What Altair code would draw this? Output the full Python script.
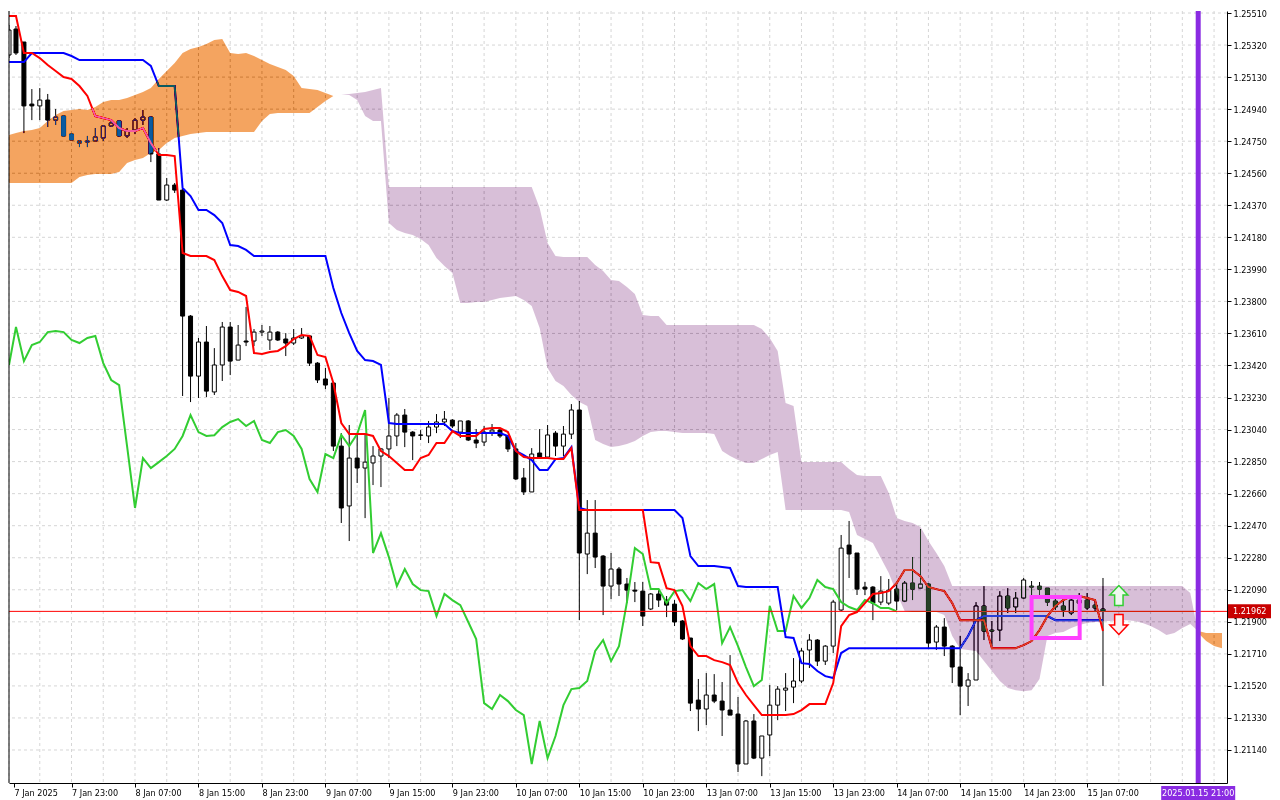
import json
import altair as alt
import pandas as pd

# ---------------- data (hourly EURUSD-like bars) ----------------
opens = [1.25261,1.25415,1.25338,1.24970,1.24959,1.24994,1.24875,1.24899,1.24792,1.24739,
1.24745,1.24751,1.24769,1.24840,1.24870,1.24781,1.24816,1.24875,1.24893,1.24674,
1.24401,1.24490,1.24460,1.23713,1.23357,1.23559,1.23263,1.23423,1.23648,1.23452,
1.23565,1.23565,1.23618,1.23571,1.23618,1.23577,1.23553,1.23583,1.23595,1.23434,
1.23340,1.23316,1.22942,1.22587,1.22871,1.22812,1.22842,1.22883,1.22925,1.23002,
1.23126,1.23025,1.23008,1.23002,1.23055,1.23085,1.23096,1.23025,1.23091,1.22978,
1.22966,1.23025,1.23037,1.23002,1.22925,1.22753,1.22670,1.22901,1.22877,1.23019,
1.22942,1.23013,1.23156,1.22302,1.22426,1.22290,1.22112,1.22213,1.22124,1.22088,
1.22082,1.21976,1.22065,1.22029,1.22005,1.21905,1.21804,1.21436,1.21383,1.21466,
1.21430,1.21377,1.21353,1.21057,1.21312,1.21092,1.21229,1.21406,1.21495,1.21513,
1.21549,1.21733,1.21792,1.21667,1.21756,1.21970,1.22355,1.22308,1.22106,1.22106,
1.22017,1.22011,1.22094,1.22023,1.22130,1.22100,1.22124,1.21780,1.21869,1.21756,
1.21632,1.21519,1.21555,1.21994,1.21851,1.21851,1.22053,1.21988,1.22041,1.22112,
1.22112,1.22100,1.22023,1.21994,1.21952,1.22029,1.22029,1.21999,1.21976]
highs = [1.25439,1.25433,1.25338,1.25059,1.25065,1.25030,1.24941,1.24905,1.24798,1.24757,
1.24781,1.24828,1.24846,1.24875,1.24875,1.24828,1.24887,1.24935,1.24899,1.24709,
1.24532,1.24502,1.24466,1.23719,1.23583,1.23654,1.23523,1.23678,1.23678,1.23660,
1.23767,1.23636,1.23660,1.23654,1.23624,1.23612,1.23636,1.23642,1.23601,1.23440,
1.23405,1.23316,1.23019,1.23067,1.23008,1.23008,1.22942,1.22930,1.23227,1.23138,
1.23162,1.23031,1.23037,1.23091,1.23132,1.23150,1.23102,1.23091,1.23096,1.23043,
1.23061,1.23073,1.23049,1.23008,1.22960,1.22812,1.22930,1.23043,1.23067,1.23031,
1.23061,1.23191,1.23209,1.22622,1.22622,1.22296,1.22308,1.22225,1.22160,1.22136,
1.22136,1.22071,1.22088,1.22053,1.22029,1.21910,1.21804,1.21561,1.21596,1.21590,
1.21543,1.21703,1.21454,1.21318,1.21353,1.21223,1.21525,1.21519,1.21596,1.21685,
1.21744,1.21827,1.21798,1.21762,1.22029,1.22415,1.22498,1.22308,1.22136,1.22112,
1.22171,1.22154,1.22130,1.22142,1.22284,1.22450,1.22130,1.21881,1.21922,1.21762,
1.21816,1.21596,1.22017,1.22112,1.21905,1.22082,1.22100,1.22077,1.22160,1.22142,
1.22136,1.22100,1.22053,1.22053,1.22041,1.22071,1.22071,1.22023,1.22160]
lows = [1.25243,1.25261,1.24798,1.24875,1.24875,1.24834,1.24846,1.24775,1.24757,1.24715,
1.24715,1.24751,1.24751,1.24834,1.24775,1.24769,1.24792,1.24846,1.24626,1.24401,
1.24395,1.24443,1.23239,1.23203,1.23227,1.23233,1.23245,1.23328,1.23363,1.23452,
1.23535,1.23535,1.23595,1.23512,1.23565,1.23476,1.23541,1.23577,1.23417,1.23316,
1.23280,1.22913,1.22486,1.22379,1.22723,1.22515,1.22711,1.22699,1.22871,1.22942,
1.22936,1.22859,1.22978,1.22960,1.23019,1.23061,1.23049,1.22990,1.22972,1.22930,
1.22942,1.23002,1.22990,1.22907,1.22741,1.22652,1.22670,1.22871,1.22871,1.22883,
1.22883,1.22984,1.21910,1.22183,1.22219,1.21940,1.22035,1.22053,1.22011,1.22017,
1.21875,1.21970,1.21988,1.21928,1.21875,1.21792,1.21371,1.21252,1.21288,1.21418,
1.21223,1.21347,1.21009,1.21057,1.21086,1.20985,1.21104,1.21317,1.21371,1.21418,
1.21537,1.21626,1.21638,1.21644,1.21715,1.21964,1.22160,1.22059,1.22059,1.21910,
1.21999,1.21999,1.21970,1.22017,1.22029,1.22100,1.21744,1.21733,1.21697,1.21537,
1.21347,1.21401,1.21555,1.21792,1.21756,1.21786,1.21952,1.21952,1.22035,1.22041,
1.22059,1.21994,1.21970,1.21930,1.21940,1.21976,1.21970,1.21958,1.21519]
closes = [1.25409,1.25273,1.24959,1.24959,1.24994,1.24875,1.24893,1.24781,1.24757,1.24751,
1.24751,1.24775,1.24840,1.24858,1.24781,1.24810,1.24875,1.24893,1.24674,1.24401,
1.24490,1.24460,1.23713,1.23357,1.23559,1.23268,1.23423,1.23648,1.23446,1.23541,
1.23559,1.23618,1.23624,1.23618,1.23571,1.23553,1.23583,1.23595,1.23434,1.23334,
1.23304,1.22942,1.22575,1.22871,1.22812,1.22847,1.22883,1.22925,1.23002,1.23126,
1.23025,1.23002,1.23006,1.23055,1.23085,1.23102,1.23061,1.23091,1.22978,1.22960,
1.23025,1.23037,1.23002,1.22925,1.22747,1.22670,1.22895,1.22871,1.23008,1.22942,
1.23013,1.23156,1.22308,1.22426,1.22284,1.22112,1.22213,1.22124,1.22088,1.22082,
1.21934,1.22065,1.22029,1.21999,1.21899,1.21798,1.21418,1.21383,1.21466,1.21430,
1.21377,1.21347,1.21057,1.21312,1.21092,1.21223,1.21406,1.21501,1.21507,1.21549,
1.21727,1.21792,1.21667,1.21756,1.22017,1.22337,1.22302,1.22094,1.22094,1.22011,
1.22082,1.22088,1.22023,1.22130,1.22094,1.22124,1.21774,1.21869,1.21756,1.21632,
1.21519,1.21555,1.21994,1.21845,1.21845,1.22053,1.21982,1.22041,1.22148,1.22106,
1.22094,1.22017,1.21988,1.21970,1.22029,1.22011,1.21982,1.21982,1.21962]

tenkan = [1.25492,1.25492,1.25273,1.25273,1.25243,1.25202,1.25166,1.25130,1.25119,1.25077,
1.25018,1.24899,1.24887,1.24875,1.24828,1.24810,1.24810,1.24828,1.24739,1.24668,
1.24668,1.24662,1.24087,1.24069,1.24069,1.24069,1.24045,1.23950,1.23867,1.23856,
1.23832,1.23494,1.23488,1.23500,1.23506,1.23535,1.23577,1.23601,1.23595,1.23482,
1.23470,1.23316,1.23079,1.23013,1.23013,1.23013,1.23002,1.22913,1.22883,1.22842,
1.22800,1.22800,1.22871,1.22889,1.22960,1.22960,1.23031,1.23002,1.23002,1.23002,
1.23043,1.23049,1.23049,1.23025,1.22913,1.22877,1.22871,1.22871,1.22871,1.22865,
1.22865,1.22930,1.22563,1.22563,1.22563,1.22563,1.22563,1.22563,1.22563,1.22563,
1.22563,1.22254,1.22249,1.22100,1.22088,1.21994,1.21756,1.21697,1.21697,1.21673,
1.21661,1.21644,1.21537,1.21466,1.21406,1.21347,1.21347,1.21347,1.21347,1.21353,
1.21377,1.21412,1.21412,1.21412,1.21537,1.21875,1.21940,1.21958,1.22011,1.22065,
1.22071,1.22082,1.22130,1.22207,1.22207,1.22171,1.22106,1.22094,1.22082,1.22011,
1.21910,1.21910,1.21910,1.21910,1.21744,1.21744,1.21744,1.21744,1.21762,1.21786,
1.21851,1.21934,1.21994,1.22029,1.22053,1.22053,1.22041,1.22029,1.21845]
kijun = [1.25219,1.25219,1.25219,1.25273,1.25273,1.25273,1.25273,1.25273,1.25255,1.25231,
1.25231,1.25231,1.25231,1.25231,1.25231,1.25231,1.25231,1.25231,1.25196,1.25077,
1.25077,1.25077,1.24472,1.24425,1.24342,1.24342,1.24312,1.24265,1.24134,1.24128,
1.24105,1.24069,1.24069,1.24069,1.24069,1.24069,1.24069,1.24069,1.24069,1.24069,
1.24069,1.23879,1.23731,1.23612,1.23506,1.23452,1.23446,1.23423,1.23079,1.23073,
1.23073,1.23073,1.23073,1.23073,1.23073,1.23073,1.23031,1.23019,1.23019,1.23019,
1.23019,1.23019,1.23019,1.23002,1.22913,1.22889,1.22859,1.22800,1.22800,1.22865,
1.22871,1.22936,1.22575,1.22563,1.22563,1.22563,1.22563,1.22563,1.22563,1.22563,
1.22563,1.22563,1.22563,1.22563,1.22563,1.22515,1.22290,1.22231,1.22231,1.22231,
1.22225,1.22219,1.22112,1.22106,1.22106,1.22106,1.22106,1.22106,1.21810,1.21804,
1.21655,1.21650,1.21608,1.21578,1.21567,1.21715,1.21744,1.21744,1.21744,1.21744,
1.21744,1.21744,1.21744,1.21744,1.21744,1.21744,1.21744,1.21744,1.21744,1.21744,
1.21744,1.21816,1.21910,1.21934,1.21934,1.21934,1.21934,1.21934,1.21934,1.21934,
1.21934,1.21934,1.21910,1.21910,1.21910,1.21910,1.21910,1.21910,1.21910]

span_a = [1.24787,1.24798,1.24810,1.24816,1.24828,1.24870,1.24905,1.24929,1.24935,1.24941,
1.24935,1.24953,1.24982,1.24994,1.24994,1.25006,1.25024,1.25042,1.25065,1.25119,
1.25166,1.25214,1.25273,1.25297,1.25308,1.25326,1.25350,1.25356,1.25273,1.25267,
1.25273,1.25255,1.25231,1.25208,1.25190,1.25172,1.25136,1.25065,1.25059,1.25053,
1.25036,1.25018,1.25024,1.25024,1.24994,1.24899,1.24870,1.24870,1.24265,1.24223,
1.24205,1.24194,1.24170,1.24134,1.24057,1.24010,1.23968,1.23790,1.23790,1.23796,
1.23796,1.23808,1.23820,1.23826,1.23832,1.23808,1.23773,1.23642,1.23405,1.23328,
1.23298,1.23245,1.23203,1.23180,1.22978,1.22954,1.22936,1.22942,1.22954,1.22972,
1.23002,1.23025,1.23031,1.23031,1.23025,1.23019,1.23019,1.23019,1.23019,1.23013,
1.22913,1.22883,1.22859,1.22842,1.22842,1.22865,1.22889,1.22907,1.22563,1.22563,
1.22563,1.22563,1.22563,1.22563,1.22563,1.22563,1.22551,1.22415,1.22391,1.22367,
1.22278,1.22189,1.22071,1.21964,1.21958,1.21958,1.21958,1.21958,1.21940,1.21816,
1.21739,1.21733,1.21727,1.21667,1.21608,1.21549,1.21507,1.21495,1.21489,1.21495,
1.21561,1.21816,1.21833,1.21839,1.21863,1.21881,1.21893,1.21899,1.21905,1.21905,
1.21910,1.21910,1.21905,1.21893,1.21875,1.21851,1.21822,1.21833,1.21863,1.21887,
1.21845,1.21833,1.21833,1.21833]
span_b = [1.24502,1.24502,1.24502,1.24502,1.24502,1.24502,1.24502,1.24502,1.24502,1.24537,
1.24549,1.24555,1.24555,1.24555,1.24567,1.24621,1.24638,1.24650,1.24680,1.24698,
1.24739,1.24769,1.24781,1.24792,1.24798,1.24804,1.24804,1.24804,1.24804,1.24804,
1.24804,1.24804,1.24870,1.24911,1.24917,1.24917,1.24917,1.24917,1.24917,1.24953,
1.24988,1.25018,1.25024,1.25030,1.25036,1.25042,1.25053,1.25065,1.24478,1.24478,
1.24478,1.24478,1.24478,1.24478,1.24478,1.24478,1.24478,1.24478,1.24478,1.24478,
1.24478,1.24478,1.24478,1.24478,1.24478,1.24478,1.24478,1.24354,1.24146,1.24069,
1.24063,1.24063,1.24063,1.24063,1.24016,1.23980,1.23927,1.23921,1.23885,1.23844,
1.23719,1.23713,1.23713,1.23660,1.23660,1.23660,1.23660,1.23660,1.23660,1.23660,
1.23660,1.23660,1.23660,1.23660,1.23660,1.23636,1.23583,1.23506,1.23197,1.23180,
1.22847,1.22847,1.22847,1.22847,1.22847,1.22847,1.22806,1.22770,1.22764,1.22764,
1.22764,1.22664,1.22515,1.22498,1.22486,1.22462,1.22379,1.22308,1.22231,1.22112,
1.22112,1.22112,1.22112,1.22112,1.22112,1.22112,1.22112,1.22112,1.22112,1.22112,
1.22112,1.22112,1.22112,1.22112,1.22112,1.22112,1.22112,1.22112,1.22112,1.22112,
1.22112,1.22112,1.22112,1.22112,1.22112,1.22112,1.22112,1.22112,1.22112,1.22071,
1.21833,1.21786,1.21756,1.21744]

chikou_shift = 26
x_labels = ["7 Jan 2025", "7 Jan 23:00", "8 Jan 07:00", "8 Jan 15:00", "8 Jan 23:00",
            "9 Jan 07:00", "9 Jan 15:00", "9 Jan 23:00", "10 Jan 07:00", "10 Jan 15:00",
            "10 Jan 23:00", "13 Jan 07:00", "13 Jan 15:00", "13 Jan 23:00", "14 Jan 07:00",
            "14 Jan 15:00", "14 Jan 23:00", "15 Jan 07:00"]
price_ticks = [1.25510, 1.25320, 1.25130, 1.24940, 1.24750, 1.24560, 1.24370, 1.24180,
               1.23990, 1.23800, 1.23610, 1.23420, 1.23230, 1.23040, 1.22850, 1.22660,
               1.22470, 1.22280, 1.22090, 1.21900, 1.21710, 1.21520, 1.21330, 1.21140]
bid_price = [1.21962]
bid_text = ["1.21962"]
vline_bar = [150]
vline_text = ["2025.01.15 21:00"]
box_bars = [129.0, 135.06]
box_prices = [1.22047, 1.21804]
arrow_bar = [140, 140]
arrow_price = [1.22056, 1.21884]

# ---------------- layout ----------------
W, H = 1218, 772
FONT = "DejaVu Sans Condensed, Liberation Sans"
xscale = alt.Scale(domain=[0.75, 153], clamp=True, nice=False, zero=False)
yscale = alt.Scale(domain=[1.209443, 1.255219], nice=False, zero=False)

x_axis = alt.Axis(values=[0.75] + [8 * k for k in range(1, len(x_labels))],
                  labelExpr=json.dumps(x_labels) + "[round(datum.value / 8)]",
                  orient="bottom", grid=False, domainColor="black", tickColor="black",
                  tickSize=4, labelAlign="left", labelPadding=1, labelFont=FONT,
                  labelFontSize=9, labelColor="black", title=None, labelOverlap=False,
                  labelFlush=False, zindex=1)
y_axis = alt.Axis(values=price_ticks, format=".5f", orient="right", grid=False,
                  domainColor="black", tickColor="black", tickSize=4, labelPadding=2,
                  labelFont=FONT, labelFontSize=9, labelColor="black", title=None,
                  labelOverlap=False, zindex=1)


def X(f):
    return alt.X(f, type="quantitative", scale=xscale, axis=x_axis)


def Y(f):
    return alt.Y(f, type="quantitative", scale=yscale, axis=y_axis)


n = len(closes)
bars = pd.DataFrame({"i": list(range(n)), "open": opens, "high": highs,
                     "low": lows, "close": closes})
bars["fillc"] = ["white" if c >= o else "black" for o, c in zip(opens, closes)]

ten_df = pd.DataFrame({"i": list(range(len(tenkan))), "v": tenkan})
kij_df = pd.DataFrame({"i": list(range(len(kijun))), "v": kijun})
chi_df = pd.DataFrame({"i": list(range(n - chikou_shift)), "v": closes[chikou_shift:]})

rows = []
m = len(span_a)
for k in range(m):
    a, b = span_a[k], span_b[k]
    rows.append((k, a, b))
    if k + 1 < m:
        d0 = a - b
        d1 = span_a[k + 1] - span_b[k + 1]
        if d0 * d1 < 0:
            t = d0 / (d0 - d1)
            v = a + (span_a[k + 1] - a) * t
            rows.append((k + t, v, v))
cloud = pd.DataFrame(rows, columns=["i", "a", "b"])
cloud["lo"] = cloud[["a", "b"]].min(axis=1)

bg = alt.Chart(pd.DataFrame({"z": [0]})).mark_rect(color="white").encode(
    x=alt.value(0), x2=alt.value(W), y=alt.value(0), y2=alt.value(H))

vgrid = alt.Chart(pd.DataFrame({"i": list(range(0, 153, 4))})).mark_rule(
    color="#d6d6d6", strokeDash=[3, 3], strokeWidth=1).encode(x=X("i"))
hgrid = alt.Chart(pd.DataFrame({"p": price_ticks})).mark_rule(
    color="#d6d6d6", strokeDash=[3, 3], strokeWidth=1).encode(y=Y("p"))

wicks = alt.Chart(bars).mark_rule(color="black", strokeWidth=1, clip=True).encode(
    x=X("i"), y=Y("low"), y2="high")
bodies = alt.Chart(bars).mark_bar(size=4, stroke="black", strokeWidth=1, clip=True).encode(
    x=X("i"), y=Y("open"), y2="close", fill=alt.Fill("fillc:N", scale=None))

chikou_line = alt.Chart(chi_df).mark_line(color="#32cd32", strokeWidth=2, clip=True).encode(
    x=X("i"), y=Y("v"))
kijun_line = alt.Chart(kij_df).mark_line(color="#0000ff", strokeWidth=2, clip=True).encode(
    x=X("i"), y=Y("v"))
tenkan_line = alt.Chart(ten_df).mark_line(color="#ff0000", strokeWidth=2, clip=True).encode(
    x=X("i"), y=Y("v"))

bid_df = pd.DataFrame({"p": bid_price, "t": bid_text})
bid_line = alt.Chart(bid_df).mark_rule(color="#ff0000", strokeWidth=1).encode(y=Y("p"))

# cloud drawn with a "difference" blend, like the XOR fill of the terminal
cloud_orange = alt.Chart(cloud).mark_area(color="#0b5b9f", opacity=1, blend="difference").encode(
    x=X("i"), y=Y("a"), y2="lo")
cloud_thistle = alt.Chart(cloud).mark_area(color="#274027", opacity=1, blend="difference").encode(
    x=X("i"), y=Y("b"), y2="lo")

left_frame = alt.Chart(pd.DataFrame({"z": [0]})).mark_rule(color="black", strokeWidth=1).encode(
    x=alt.value(0), y=alt.value(0), y2=alt.value(H))

vl_df = pd.DataFrame({"i": vline_bar, "t": vline_text})
vline = alt.Chart(vl_df).mark_rule(color="#8a2be2", strokeWidth=5).encode(x=X("i"))
vbox = alt.Chart(vl_df).mark_rect(color="#8a2be2", xOffset=-37, x2Offset=37).encode(
    x=X("i"), x2="i", y=alt.value(H + 3), y2=alt.value(H + 17))
vtext = alt.Chart(vl_df).mark_text(color="white", font=FONT, fontSize=9, baseline="middle").encode(
    x=X("i"), y=alt.value(H + 10), text="t:N")

pbox = alt.Chart(bid_df).mark_rect(color="#c80000", yOffset=-7, y2Offset=7).encode(
    x=alt.value(W + 1), x2=alt.value(W + 44), y=Y("p"), y2="p")
ptext = alt.Chart(bid_df).mark_text(color="white", font=FONT, fontSize=9, align="left",
                                    baseline="middle").encode(
    x=alt.value(W + 6), y=Y("p"), text="t:N")

box_df = pd.DataFrame({"i1": [box_bars[0]], "i2": [box_bars[1]],
                       "p1": [box_prices[0]], "p2": [box_prices[1]]})
mbox = alt.Chart(box_df).mark_rect(fillOpacity=0, stroke="#ff40ff", strokeWidth=4).encode(
    x=X("i1"), x2="i2", y=Y("p1"), y2="p2")

UP = "M0,-1L0.9,-0.05L0.42,-0.05L0.42,1L-0.42,1L-0.42,-0.05L-0.9,-0.05Z"
DOWN = "M0,1L0.9,0.05L0.42,0.05L0.42,-1L-0.42,-1L-0.42,0.05L-0.9,0.05Z"
up_arrow = alt.Chart(pd.DataFrame({"i": [arrow_bar[0]], "p": [arrow_price[0]]})).mark_point(
    shape=UP, size=400, filled=True, fill="#eef8ee", stroke="#32cd32", strokeWidth=1.5,
    opacity=1).encode(x=X("i"), y=Y("p"))
down_arrow = alt.Chart(pd.DataFrame({"i": [arrow_bar[1]], "p": [arrow_price[1]]})).mark_point(
    shape=DOWN, size=400, filled=True, fill="#fff0f0", stroke="#ff0000", strokeWidth=1.5,
    opacity=1).encode(x=X("i"), y=Y("p"))

chart = alt.layer(
    bg, vgrid, hgrid, wicks, bodies, chikou_line, kijun_line, tenkan_line, bid_line,
    cloud_orange, cloud_thistle, left_frame, vline, vbox, vtext, pbox, ptext, mbox,
    up_arrow, down_arrow
).properties(width=W, height=H, padding=0).configure_view(strokeWidth=0)

chart.save("out.html", embed_options={"renderer": "svg", "actions": False})
